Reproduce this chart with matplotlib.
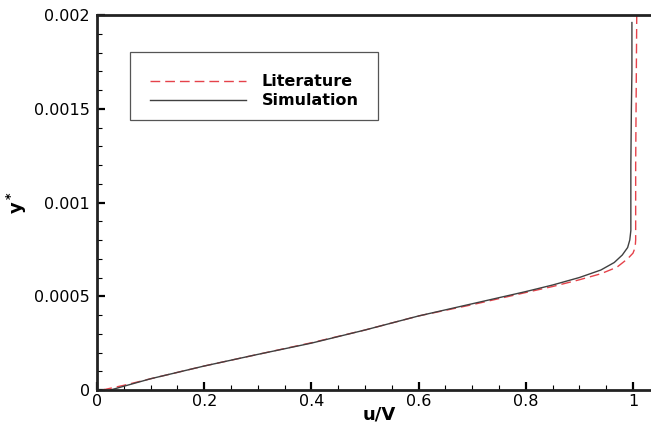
import matplotlib
matplotlib.use("Agg")
import matplotlib.pyplot as plt
from matplotlib.patches import Rectangle
from matplotlib.ticker import MultipleLocator, FuncFormatter

# velocity profile across the wall layer, literature vs. simulation
lit_u = [0.01, 0.05, 0.1, 0.2, 0.3, 0.4, 0.5, 0.6, 0.7, 0.8, 0.85, 0.9, 0.94,
         0.97, 0.99, 1.0, 1.004, 1.005, 1.005, 1.006, 1.007]
lit_y = [0, 0.000025, 0.00006, 0.000128, 0.00019, 0.000252, 0.00032, 0.000395,
         0.000455, 0.00052, 0.000552, 0.000588, 0.00062, 0.000655, 0.0007,
         0.00073, 0.00076, 0.0008, 0.0012, 0.0016, 0.002]

sim_u = [0.025, 0.05, 0.1, 0.2, 0.3, 0.4, 0.5, 0.6, 0.7, 0.8, 0.85, 0.9, 0.94,
         0.965, 0.98, 0.99, 0.994, 0.996, 0.996, 0.997, 0.998, 0.998]
sim_y = [0, 0.00002, 0.00006, 0.000128, 0.00019, 0.00025, 0.00032, 0.000395,
         0.00046, 0.000525, 0.00056, 0.0006, 0.00064, 0.00068, 0.00072, 0.00076,
         0.0008, 0.00085, 0.0012, 0.0015, 0.0017, 0.00196]

plt.rcParams['font.family'] = 'DejaVu Sans'

fig = plt.figure(figsize=(6.51, 4.30), dpi=100)
ax = fig.add_axes([0.149, 0.093, 0.851, 0.872])

ax.plot(lit_u, lit_y, color='#e5424a', linewidth=1.0, dashes=(7, 3.6), label='Literature')
ax.plot(sim_u, sim_y, color='#404040', linewidth=1.0, label='Simulation')

ax.set_xlim(0, 1.0336)
ax.set_ylim(0, 0.002)

ax.xaxis.set_major_locator(MultipleLocator(0.2))
ax.xaxis.set_minor_locator(MultipleLocator(0.05))
ax.yaxis.set_major_locator(MultipleLocator(0.0005))
ax.yaxis.set_minor_locator(MultipleLocator(0.0001))
fmt = FuncFormatter(lambda v, p: '%g' % round(v, 6))
ax.xaxis.set_major_formatter(fmt)
ax.yaxis.set_major_formatter(fmt)

ax.tick_params(which='major', direction='in', length=6, width=1.6,
               labelsize=11.5, top=False, right=False)
ax.tick_params(which='minor', direction='in', length=3.5, width=0.8,
               top=False, right=False)
ax.tick_params(axis='x', which='major', pad=3)
ax.tick_params(axis='y', which='major', pad=5)

for side in ['left', 'bottom', 'top']:
    ax.spines[side].set_linewidth(2)
    ax.spines[side].set_color('#222222')
ax.spines['right'].set_visible(False)

ax.set_xlabel('u/V', fontsize=13, fontweight='bold')
ax.xaxis.set_label_coords(0.51, -0.04)
ax.set_ylabel(r'$\mathbf{y^*}$', fontsize=13)
ax.yaxis.set_label_coords(-0.122, 0.50)

# legend box drawn by hand, entries without frame
ax.add_patch(Rectangle((0.0596, 0.72), 0.447, 0.181, transform=ax.transAxes,
                       fill=False, edgecolor='#555555', linewidth=0.9))
leg = ax.legend(loc='center left', bbox_to_anchor=(0.0957, 0.797),
                frameon=False, borderpad=0, borderaxespad=0,
                handlelength=6.0, handletextpad=1.0, labelspacing=0.25,
                prop={'weight': 'bold', 'size': 11.5})

fig.savefig('out.png', dpi=100)
